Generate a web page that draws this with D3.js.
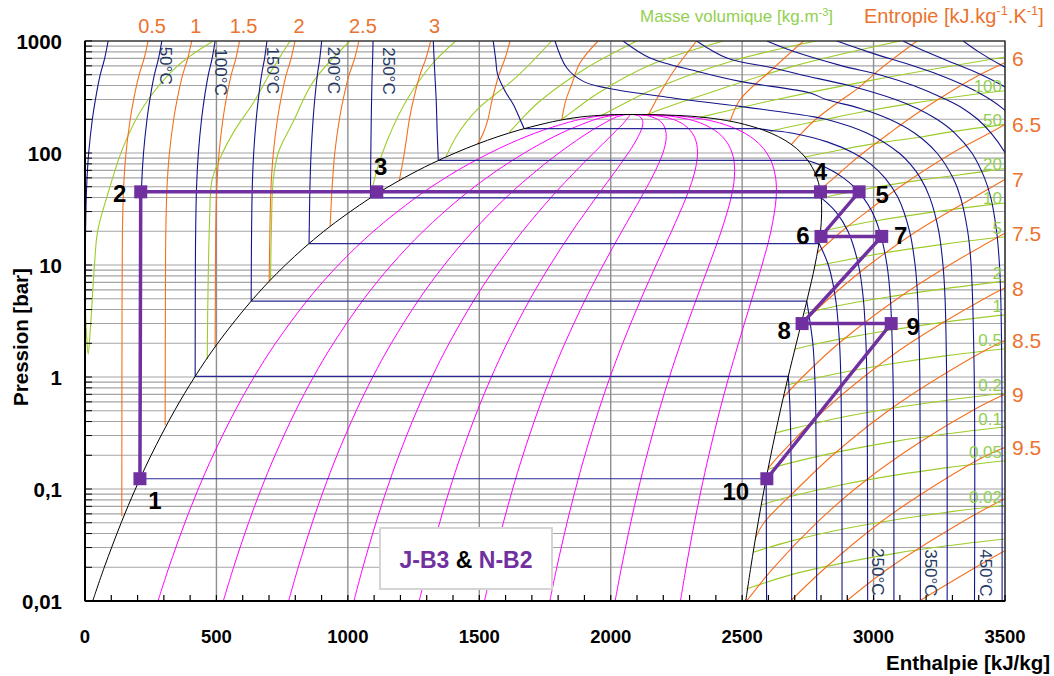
<!DOCTYPE html>
<html><head><meta charset="utf-8">
<script src="https://cdn.jsdelivr.net/npm/d3@7"></script>
<style>body{margin:0;background:#fff}svg{display:block}text{font-family:"Liberation Sans",Arial,sans-serif}</style>
</head><body><svg id="c" width="1054" height="676"></svg>
<script>
// ---------- DATA (h in kJ/kg, p in bar) ----------
const hTicks = [0,500,1000,1500,2000,2500,3000,3500];
const pTickValues = [0.01,0.1,1,10,100,1000];
const pTickLabels = ["0,01","0,1","1","10","100","1000"];

// saturation curve (steam tables)
const satP  = [0.01,0.02,0.05,0.1,0.2,0.5,1,2,5,10,20,40,60,80,100,120,140,160,180,190,200,210,215,218,220,220.64];
const satHf = [29.3,73.4,137.8,191.8,251.4,340.5,417.5,504.7,640.1,762.5,908.6,1087.4,1213.9,1317.1,1408.1,1491.5,1571.0,1650.5,1734.8,1778,1826.6,1888,1935,1975,2015,2084.3];
const satHg = [2513.7,2532.9,2560.7,2583.9,2608.9,2645.2,2674.9,2706.2,2748.1,2777.1,2798.3,2800.8,2784.6,2758.7,2725.5,2685.6,2638.1,2580.8,2509.5,2466,2412.3,2336,2280,2215,2160,2084.3];
const qualities = [0.1,0.2,0.3,0.4,0.5,0.6,0.7,0.8,0.9];

// isotherms : compressed-liquid branch
const isoLiquid = [
 [0,  [[88,1000],[74.8,700],[58,500],[39.6,300],[28,200],[14,100],[6.2,50],[2.2,20],[0.9,10],[0.2,1],[0,0.01]]],
 [50, [[292.3,1000],[279.8,700],[264,500],[246.7,300],[235.9,200],[222.6,100],[215.1,50],[211.4,20],[210.1,10],[209.4,1],[209.3,0.1235]]],
 [100,[[495,1000],[483.7,700],[469.3,500],[453.3,300],[443.4,200],[431.3,100],[424.4,50],[421,20],[419.9,10],[419.1,1.014]]],
 [150,[[692.2,1000],[683.2,700],[671.8,500],[659.2,300],[651.4,200],[641.8,100],[636.4,50],[633.7,20],[632.8,10],[632.2,4.76]]],
 [200,[[900.4,1000],[893.2,700],[884.1,500],[874,300],[867.8,200],[860.1,100],[855.8,50],[853.6,25],[852.4,15.55]]],
 [250,[[1095.8,1000],[1094.3,700],[1092.4,500],[1090.3,300],[1089,200],[1087.4,100],[1086.5,60],[1085.8,39.76]]],
 [300,[[1325,1000],[1328,700],[1331,500],[1336,300],[1340,150],[1344,85.8]]],
 [350,[[1553,1000],[1562,700],[1570,500],[1600,350],[1630,270],[1655,200],[1670.6,165.2]]]
];
// isotherms : two-phase plateau [T, hf, hg, psat]
const isoDome = [[50,209.3,2591.3,0.1235],[100,419.1,2675.6,1.014],[150,632.2,2745.9,4.76],[200,852.4,2792.8,15.55],[250,1085.8,2801,39.76],[300,1344,2749,85.8],[350,1670.6,2563.9,165.2]];
// isotherms : vapour branch
const isoVapour = [
 [50, [[2591.3,0.1235],[2592,0.05],[2592.5,0.02],[2593,0.01]]],
 [100,[[2675.6,1.014],[2682.4,0.5],[2686,0.2],[2687.5,0.1],[2688.5,0.01]]],
 [150,[[2745.9,4.76],[2768.8,2],[2776.4,1],[2780,0.5],[2783,0.1],[2783.5,0.01]]],
 [200,[[2792.8,15.55],[2827.9,10],[2855.4,5],[2870.5,2],[2875.3,1],[2879.5,0.1],[2880,0.01]]],
 [250,[[2801,39.76],[2855.8,30],[2902.5,20],[2942.6,10],[2961,5],[2971,2],[2974.3,1],[2977,0.1],[2977.5,0.01]]],
 [300,[[2749,85.8],[2785,80],[2839,70],[2885,60],[2925,50],[2961,40],[2994,30],[3023.5,20],[3051,10],[3064,5],[3074,1],[3077,0.1],[3077.5,0.01]]],
 [350,[[2563.9,165.2],[2600,160],[2693,150],[2826,125],[2924,100],[2988,80],[3043,60],[3093,40],[3137,20],[3158,10],[3168,5],[3176,1],[3178,0.01]]]
];
// supercritical isotherms
const isoSuper = [
 [400,[[1788,1000],[1833,574],[1896,436],[1985,380],[2237,310],[2492,261],[2759,213],[2819,200],[2976,150],[3097,100],[3139,80],[3178,60],[3214,40],[3248,20],[3264,10],[3272,5],[3278,1],[3280,0.1],[3280,0.01]]],
 [450,[[2047,1000],[2150,705],[2327,537],[2492,436],[2759,343],[2820,300],[2950,250],[3061,200],[3157,150],[3241,100],[3302,60],[3331,40],[3358,20],[3371,10],[3383,1],[3384,0.01]]],
 [500,[[2327,1000],[2442,705],[2619,574],[2723,500],[2906,400],[3083,300],[3166,250],[3241,200],[3310,150],[3374,100],[3422,60],[3446,40],[3468,20],[3479,10],[3484,5],[3488,1],[3489,0.01]]],
 [550,[[2594,1000],[2700,800],[2880,600],[3022,500],[3151,400],[3276,300],[3340,250],[3396,200],[3448,150],[3501,100],[3521,80]]],
 [600,[[2860,1000],[2980,800],[3150,600],[3248,500],[3346,400],[3444,300],[3491,250],[3537,200]]],
 [650,[[3112,1000],[3200,800],[3330,600],[3410,500],[3490,400],[3570,300]]],
 [700,[[3341,1000],[3400,800],[3490,600],[3560,500]]]
];
// isotherm annotations [text, h, p]
const isoLabelsTop = [["50°C",308,890],["100°C",514,860],["150°C",715,890],["200°C",944,890],["250°C",1153,880]];
const isoLabelsBottom = [["250°C",3014,0.0297],["350°C",3215,0.0290],["450°C",3425,0.0290]];

// isentropes [s, points]
const isentropes = [
 [0.5,[[240,1000],[225,700],[206,500],[185,300],[172,200],[156,100],[147,50],[142.5,20],[141,5],[140,0.057]]],
 [1,  [[406,1000],[390.9,700],[371.7,500],[350.5,300],[337.3,200],[321.2,100],[312.1,50],[307.5,20],[306,5],[305,0.37]]],
 [1.5,[[588,1000],[574,700],[556.4,500],[536.9,300],[524.8,200],[509.9,100],[501.5,50],[497.3,20],[495.9,5],[495,1.87]]],
 [2,  [[799,1000],[784.1,700],[765.5,500],[744.9,300],[732.2,200],[716.5,100],[707.7,50],[703.3,20],[700.8,7.1]]],
 [2.5,[[1042,1000],[1026,700],[1005,500],[982,300],[967.8,200],[950.2,100],[940.3,50],[932.6,22.3]]],
 [3,  [[1315,1000],[1297,700],[1274.5,500],[1249.6,300],[1234,200],[1215,100],[1196,57.4]]],
 [3.5,[[1617,1000],[1598,700],[1575,500],[1549,300],[1533,200],[1515,150],[1494,120]]],
 [4,  [[1952,1000],[1883,637],[1850,400],[1830,300],[1814,200]]],
 [4.5,[[2327,1000],[2239,537],[2190,350],[2160,260],[2142,217]]],
 [5,  [[2733,1000],[2606,537],[2492,299],[2454,191]]],
 [5.5,[[3165,1000],[3020,550],[2942,380],[2880,300],[2780,200],[2720,145],[2687,119]]],
 [6,  [[2796,47],[2850,60],[2910,80],[2960,100],[3060,150],[3133,200],[3245,300],[3390,480],[3530,690]]],
 [6.5,[[2785,12.8],[2879,20],[2975,30],[3101,50],[3300,100],[3440,150],[3533,200]]],
 [7,  [[2724,2.95],[2829,5],[2983,10],[3164,20],[3381,40],[3452,50],[3510,60]]],
 [7.5,[[2657,0.66],[2730,1],[2868,2],[3090,5],[3289,10],[3512,20]]],
 [8,  [[2599,0.153],[2641,0.2],[2811,0.5],[2962,1],[3138,2],[3421,5],[3510,6.4]]],
 [8.5,[[2552,0.037],[2583,0.05],[2709,0.1],[2844,0.2],[3056,0.5],[3251,1],[3477,2],[3510,2.15]]],
 [9,  [[2517,0.01],[2621,0.02],[2784,0.05],[2929,0.1],[3101,0.2],[3375,0.5],[3510,0.72]]],
 [9.5,[[2684,0.01],[2819,0.02],[3024,0.05],[3212,0.1],[3431,0.2],[3510,0.24]]],
 [10, [[2897,0.01],[3063,0.02],[3332,0.05],[3510,0.085]]],
 [10.5,[[3174,0.01],[3389,0.02],[3510,0.029]]]
];
const sTopLabels = [0.5,1,1.5,2,2.5,3];
const sRightLabels = [6,6.5,7,7.5,8,8.5,9,9.5];

// isochores [rho kg/m3, points]
const isochores = [
 [1000,[[-6,10],[0,5],[5,2.6],[12,1.6],[20,2.6],[36,10],[48,20],[84,41],[146,114],[222,259],[349,590],[488,1000]]],
 [950,[[465,1.45],[468,6],[474,25],[483,57],[514,90],[570,160],[640,280],[705,520],[780,1000]]],
 [900,[[706,7.4],[709,20],[716,57],[735,100],[793,192],[869,436],[1008,1000]]],
 [800,[[1086,39.8],[1110,70],[1150,130],[1224,297],[1320,620],[1410,1000]]],
 [700,[[1373,92.7],[1420,150],[1490,242],[1643,480],[1775,1000]]],
 [600,[[1614,153],[1660,200],[1730,290],[1900,560],[2099,1000]]],
 [500,[[1814,199],[1860,240],[1950,340],[2150,610],[2428,1000]]],
 [400,[[1966,217],[2030,260],[2150,360],[2450,650],[2780,1000]]],
 [300,[[2137,219],[2200,250],[2350,330],[2700,600],[3101,1000]]],
 [200,[[2340,208],[2450,240],[2600,290],[3000,450],[3530,740]]],
 [100,[[2606,156],[2700,175],[2819,200],[2980,238],[3128,273],[3400,338],[3530,366]]],
 [50,[[2739,92],[2885,108],[3040,125],[3180,139],[3305,156],[3530,184]]],
 [20,[[2801,39.7],[2940,46.3],[3183,57.5],[3411,67.8],[3520,74]]],
 [10,[[2799,20],[3009,24.8],[3231,29.8],[3452,34.8],[3520,36.2]]],
 [5,[[2777,9.8],[2826,10.3],[3044,12.85],[3256,15.2],[3472,17.6],[3520,18.1]]],
 [2,[[2738,3.69],[2859,4.31],[3064,5.22],[3270,6.15],[3481,7.1],[3520,7.28]]],
 [1,[[2700,1.77],[2772,1.95],[2871,2.18],[3072,2.645],[3278,3.107],[3520,3.63]]],
 [0.5,[[2667,0.84],[2683,0.861],[2876,1.09],[3075,1.32],[3279,1.553],[3520,1.81]]],
 [0.2,[[2627,0.316],[2688,0.344],[2880,0.437],[3077,0.529],[3280,0.621],[3520,0.725]]],
 [0.1,[[2599,0.150],[2688,0.172],[2880,0.218],[3077,0.265],[3280,0.311],[3520,0.362]]],
 [0.05,[[2573,0.0721],[2688,0.0861],[2880,0.1092],[3077,0.1323],[3280,0.1553],[3520,0.181]]],
 [0.02,[[2541,0.0272],[2688,0.0344],[2880,0.0437],[3077,0.0529],[3280,0.0621],[3520,0.0725]]],
 [0.01,[[2516,0.0128],[2688,0.0172],[2880,0.0218],[3077,0.0265],[3280,0.0311],[3520,0.0362]]]
];
const rhoLabels = [100,50,20,10,5,2,1,0.5,0.2,0.1,0.05,0.02];

// cycle
const cycleNames = ["1","2","3","4","5","6","7","8","9","10"];
const cycleH = [209,212,1110,2798,2945,2800,3031,2728,3067,2594];
const cycleP = [0.1235,45,45,45,45,18,18,3,3,0.1235];

// ---------- LAYOUT ----------
const svg = d3.select("#c");
const L=85,R=1005,T=41,B=601;
const x = d3.scaleLinear().domain([0,3500]).range([L,R]);
const y = d3.scaleLog().domain([0.01,1000]).range([B,T]);
const C = {navy:"#14148a", orange:"#f5701e", green:"#9dcc2a", greenT:"#92d050", mag:"#ff00ff", purple:"#7030a0", otxt:"#ea7330", ltxt:"#1f3864"};

svg.append("rect").attr("width",1054).attr("height",676).attr("fill","#fff");
svg.append("defs").append("clipPath").attr("id","pc").append("rect").attr("x",L).attr("y",T).attr("width",R-L).attr("height",B-T);

const grid = svg.append("g");
y.ticks().forEach(v=>{
  grid.append("line").attr("x1",L).attr("x2",R).attr("y1",y(v)).attr("y2",y(v)).attr("stroke","#a4a4a4").attr("stroke-width",1.1);
});
hTicks.forEach(v=>{
  grid.append("line").attr("x1",x(v)).attr("x2",x(v)).attr("y1",T).attr("y2",B).attr("stroke","#8f8f8f").attr("stroke-width",1.4);
});

const plot = svg.append("g").attr("clip-path","url(#pc)");
const curve = d3.line().x(d=>x(d[0])).y(d=>y(d[1])).curve(d3.curveCatmullRom.alpha(0.5));
const lin = d3.line().x(d=>x(d[0])).y(d=>y(d[1]));

// quality lines
qualities.forEach(q=>{
  const pts = satP.map((p,i)=>[satHf[i]+q*(satHg[i]-satHf[i]),p]);
  plot.append("path").attr("d",curve(pts)).attr("fill","none").attr("stroke",C.mag).attr("stroke-width",1);
});
// isochores
isochores.forEach(([r,pts])=>{
  plot.append("path").attr("d",curve(pts)).attr("fill","none").attr("stroke",C.green).attr("stroke-width",1.1);
});
// isentropes
isentropes.forEach(([s,pts])=>{
  plot.append("path").attr("d",curve(pts)).attr("fill","none").attr("stroke",C.orange).attr("stroke-width",1.1);
});
// isotherms
isoLiquid.forEach(([t,pts])=>plot.append("path").attr("d",curve(pts)).attr("fill","none").attr("stroke",C.navy).attr("stroke-width",1.1));
isoDome.forEach(([t,hf,hg,p])=>plot.append("path").attr("d",lin([[hf,p],[hg,p]])).attr("fill","none").attr("stroke","#2a2a96").attr("stroke-width",1.2));
isoVapour.forEach(([t,pts])=>plot.append("path").attr("d",curve(pts)).attr("fill","none").attr("stroke",C.navy).attr("stroke-width",1.1));
isoSuper.forEach(([t,pts])=>plot.append("path").attr("d",curve(pts)).attr("fill","none").attr("stroke",C.navy).attr("stroke-width",1.1));
// saturation dome
const dome = satP.map((p,i)=>[satHf[i],p]).concat(satP.map((p,i)=>[satHg[i],p]).reverse().slice(1));
plot.append("path").attr("d",curve(dome)).attr("fill","none").attr("stroke","#000").attr("stroke-width",1);

// frame & axes
svg.append("rect").attr("x",L).attr("y",T).attr("width",R-L).attr("height",B-T).attr("fill","none").attr("stroke","#222").attr("stroke-width",1.2);
svg.append("line").attr("x1",L).attr("x2",L).attr("y1",T).attr("y2",B).attr("stroke","#000").attr("stroke-width",2);
svg.append("line").attr("x1",L).attr("x2",R).attr("y1",B).attr("y2",B).attr("stroke","#000").attr("stroke-width",2);
y.ticks().forEach(v=>svg.append("line").attr("x1",L).attr("x2",L+7).attr("y1",y(v)).attr("y2",y(v)).attr("stroke","#000"));
d3.range(0,3501,100).forEach(v=>svg.append("line").attr("x1",x(v)).attr("x2",x(v)).attr("y1",B).attr("y2",B-6).attr("stroke","#000").attr("stroke-width",1.2));

// cycle
const cyc = cycleH.map((h,i)=>[h,cycleP[i]]);
svg.append("path").attr("d",lin(cyc)).attr("fill","none").attr("stroke",C.purple).attr("stroke-width",3.5);
const labelOffsets = [[15,22],[-21,2],[4,-25],[0,-20],[23,3],[-18,-1],[19,-1],[-18,7],[22,3],[-31,13]];
cyc.forEach((d,i)=>{
  svg.append("rect").attr("x",x(d[0])-6.5).attr("y",y(d[1])-6.5).attr("width",13).attr("height",13).attr("fill",C.purple);
  svg.append("text").attr("x",x(d[0])+labelOffsets[i][0]).attr("y",y(d[1])+labelOffsets[i][1]).attr("text-anchor","middle").attr("dominant-baseline","central")
    .attr("font-size",24).attr("font-weight","bold").attr("fill","#000").text(cycleNames[i]);
});

// isotherm labels
isoLabelsTop.concat(isoLabelsBottom).forEach(([t,h,p])=>{
  svg.append("text").attr("transform",`translate(${x(h)},${y(p)}) rotate(90)`).attr("dominant-baseline","central")
   .attr("font-size",17).attr("fill",C.ltxt).text(t);
});

// isentrope labels
function yAtH(pts,h){
  for(let i=0;i<pts.length-1;i++){
    const a=pts[i],b=pts[i+1];
    if((a[0]-h)*(b[0]-h)<=0){const f=(h-a[0])/(b[0]-a[0]);return y(Math.pow(10,Math.log10(a[1])+f*(Math.log10(b[1])-Math.log10(a[1]))));}
  }
  return y(pts[pts.length-1][1]);
}
sTopLabels.forEach(s=>{
  const pts = isentropes.find(d=>d[0]===s)[1];
  svg.append("text").attr("x",x(pts[0][0])+4).attr("y",33).attr("text-anchor","middle").attr("font-size",20).attr("fill",C.otxt).text(s);
});
sRightLabels.forEach(s=>{
  const pts = isentropes.find(d=>d[0]===s)[1];
  svg.append("text").attr("x",1012).attr("y",yAtH(pts,3500)-(s===6?4:0)).attr("dominant-baseline","central").attr("font-size",21).attr("fill",C.otxt).text(s);
});
rhoLabels.forEach(r=>{
  const pts = isochores.find(d=>d[0]===r)[1];
  svg.append("text").attr("x",1002).attr("y",yAtH(pts,3500)-(r>=10?4:8)).attr("text-anchor","end").attr("dominant-baseline","central").attr("font-size",17).attr("fill",C.greenT).text(r);
});

// titles
const t1 = svg.append("text").attr("x",640).attr("y",22).attr("font-size",17).attr("fill",C.greenT);
t1.append("tspan").text("Masse volumique  [kg.m");
t1.append("tspan").attr("dy",-6).attr("font-size",11).text("-3");
t1.append("tspan").attr("dy",6).text("]");
const t2 = svg.append("text").attr("x",864).attr("y",23).attr("font-size",20).attr("fill",C.otxt);
t2.append("tspan").text("Entropie [kJ.kg");
t2.append("tspan").attr("dy",-8).attr("font-size",13).text("-1");
t2.append("tspan").attr("dy",8).text(".K");
t2.append("tspan").attr("dy",-8).attr("font-size",13).text("-1");
t2.append("tspan").attr("dy",8).text("]");

// axis tick labels
pTickValues.forEach((v,i)=>svg.append("text").attr("x",62).attr("y",y(v)).attr("text-anchor","end").attr("dominant-baseline","central").attr("font-size",20.5).attr("font-weight","bold").text(pTickLabels[i]));
hTicks.forEach(v=>svg.append("text").attr("x",x(v)).attr("y",643).attr("text-anchor","middle").attr("font-size",18.5).attr("font-weight","bold").text(v));
svg.append("text").attr("x",1050).attr("y",670).attr("text-anchor","end").attr("font-size",20.5).attr("font-weight","bold").text("Enthalpie [kJ/kg]");
svg.append("text").attr("transform","translate(28,337) rotate(-90)").attr("text-anchor","middle").attr("font-size",20.5).attr("font-weight","bold").text("Pression [bar]");

// legend box
svg.append("rect").attr("x",380).attr("y",528).attr("width",172).attr("height",61).attr("fill","#fff").attr("stroke","#d4d4d4").attr("stroke-width",2);
const lg = svg.append("text").attr("x",466).attr("y",560).attr("text-anchor","middle").attr("dominant-baseline","central").attr("font-size",23).attr("font-weight","bold");
lg.append("tspan").attr("fill",C.purple).text("J-B3");
lg.append("tspan").attr("fill","#000").text(" & ");
lg.append("tspan").attr("fill",C.purple).text("N-B2");
</script></body></html>
